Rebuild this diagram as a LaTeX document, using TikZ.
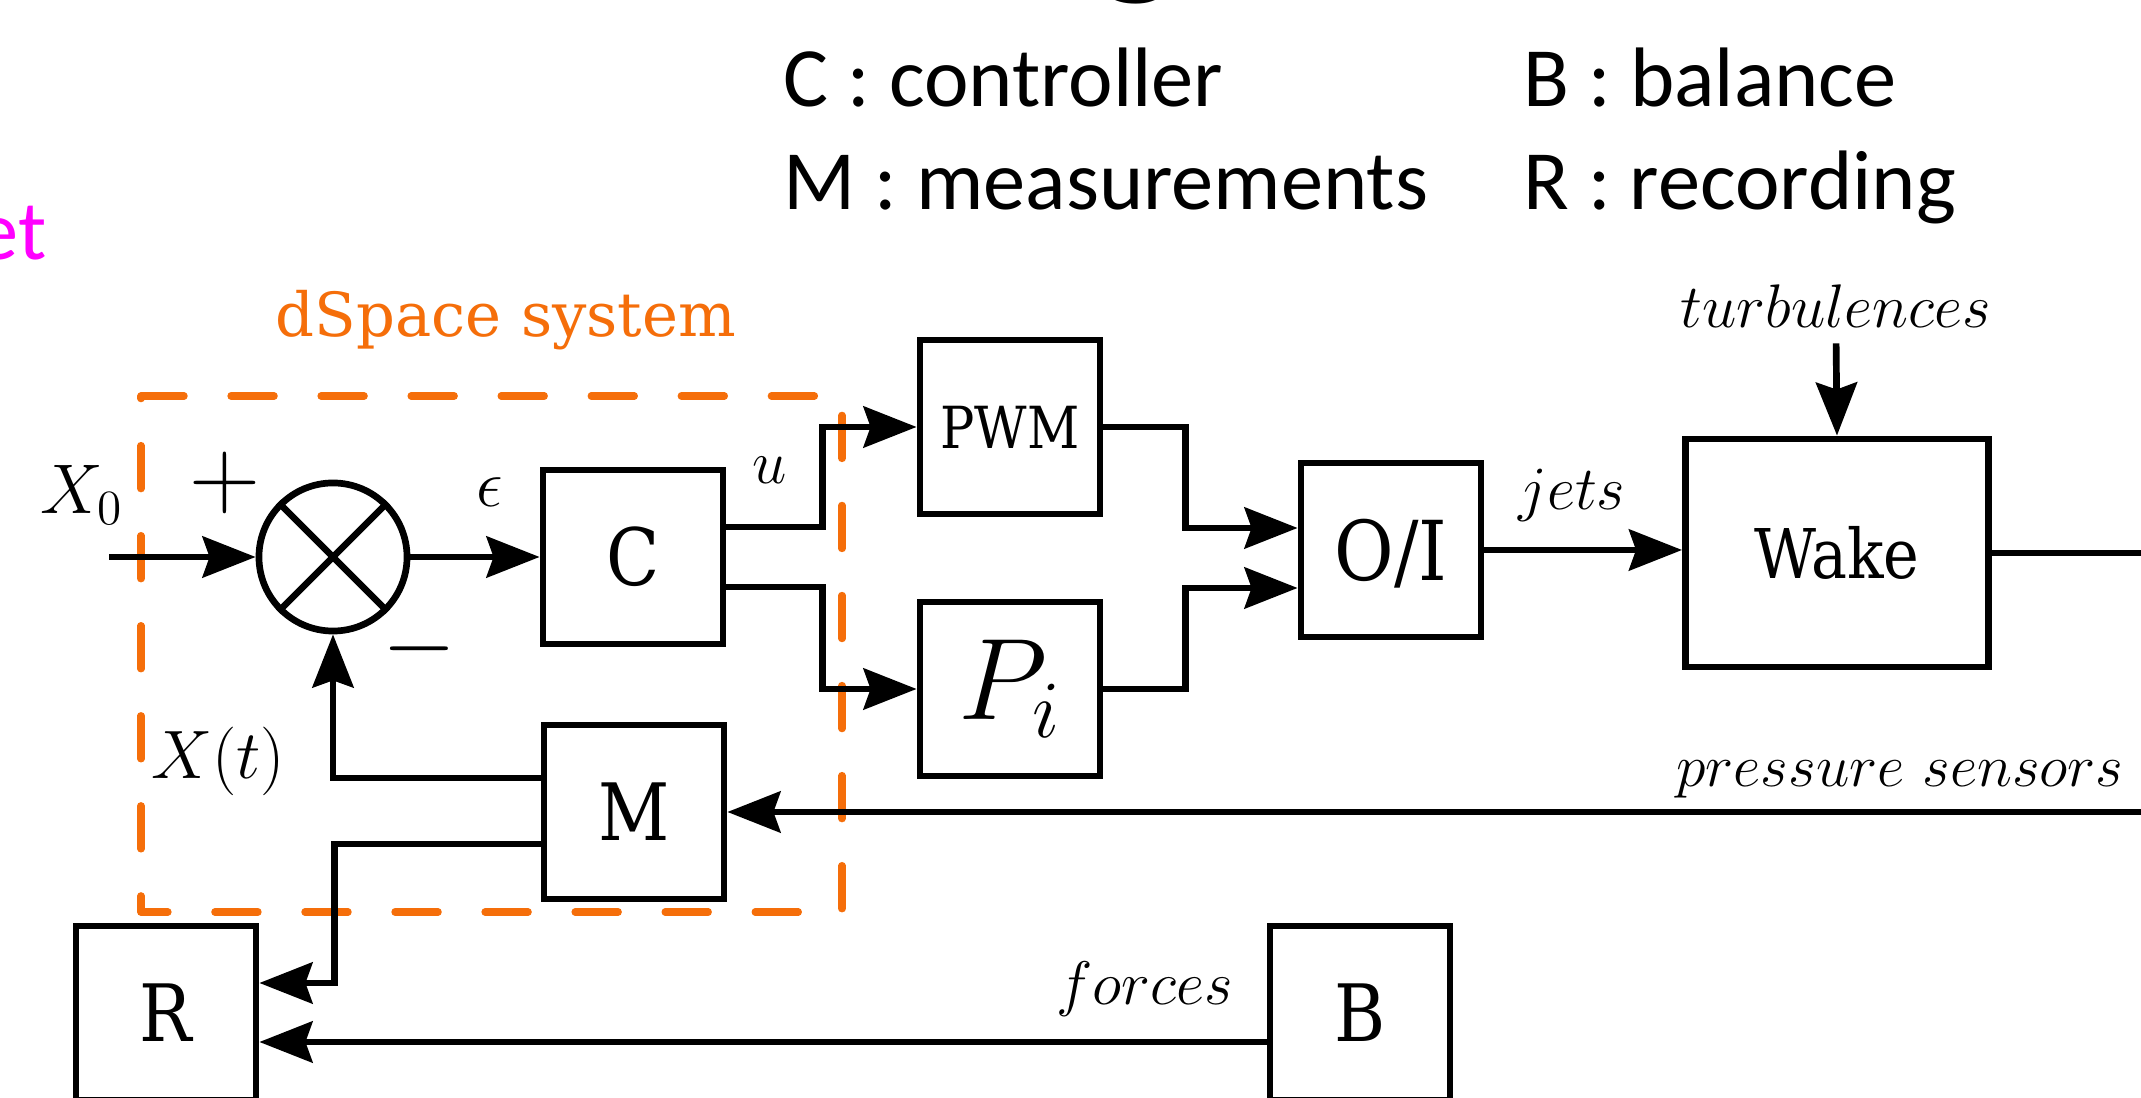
\RequirePackage{fix-cm}
\documentclass[tikz,border=0pt]{standalone}
\usepackage{fontspec}
\usetikzlibrary{arrows.meta,calc}
\newfontfamily\legendfont{Carlito}
\newfontfamily\boxfont{DejaVu Serif}[FakeStretch=0.88]
\newfontfamily\dspacefont{DejaVu Serif}
\definecolor{dorange}{RGB}{245,110,10}
\definecolor{mag}{RGB}{255,0,255}
\newcommand{\myfs}[1]{\fontsize{#1}{#1}\selectfont}
\begin{document}
\begin{tikzpicture}[x=0.01cm,y=-0.01cm,line width=1.9pt,
  >={Stealth[length=5.3mm,width=4.1mm,inset=0.7mm]},
  blk/.style={draw,rectangle,inner sep=0pt,minimum width=1.8cm,minimum height=1.74cm,font=\boxfont\myfs{22.5}},
  lbl/.style={inner sep=0pt,font=\myfs{17.5}},
  leg/.style={inner sep=0pt,anchor=base west,font=\legendfont\myfs{24}}]
\useasboundingbox (0,0) rectangle (2141,1098);
\clip (0,0) rectangle (2141,1098);
\fill[white] (0,0) rectangle (2141,1098);

% legend and slide fragments
\node[leg] (lc) at (780,107) {C : controller};
\node[leg] (lm) at (780,210) {M : measurements};
\node[leg] (lb) at (1520,107) {B : balance};
\node[leg] (lr) at (1520,210) {R : recording};
\node[inner sep=0pt,anchor=base,font=\legendfont\bfseries\myfs{48}] (tg) at (1138,-24) {g};
\node[inner sep=0pt,anchor=base east,font=\legendfont\myfs{24},text=mag] (et) at (50,260) {et};

% dSpace box
\node[inner sep=0pt,anchor=base,font=\dspacefont\myfs{17.3},text=dorange] (ds) at (506,337) {dSpace system};
\draw[dorange,line width=2.1pt,dash pattern=on 4.3mm off 4.7mm,line cap=round,line join=round]
  (141,396) -- (842,396) -- (842,912) -- (141,912) -- cycle;

% summing junction
\node[draw,circle,minimum size=1.48cm,inner sep=0pt] (sum) at (333,557) {};
\draw (sum.north east) -- (sum.south west);
\draw (sum.north west) -- (sum.south east);

% blocks
\node[blk] (C) at (633,557) {C};
\node[blk,font=\boxfont\myfs{16.5}] (PWM) at (1010,427) {PWM};
\node[blk,font=\myfs{33}] (Pi) at (1010,689) {$P_i$};
\node[blk,text depth=0pt,font=\boxfont\myfs{23.5}] (OI) at (1391,550) {O/I};
\node[blk,minimum width=3.03cm,minimum height=2.28cm,font=\boxfont\myfs{19.5}] (W) at (1837,553) {Wake};
\node[blk] (M) at (634,812) {M};
\node[blk] (R) at (166,1013) {R};
\node[blk] (B) at (1360,1013) {B};

% labels
\node[inner sep=0pt,font=\myfs{20}] (x0) at (82,495) {$X_0$};
\node[inner sep=0pt,font=\myfs{28}] (plus) at (225,483) {$+$};
\node[inner sep=0pt,font=\myfs{27}] (minus) at (419,649) {$-$};
\node[inner sep=0pt,font=\myfs{19}] (eps) at (490,492) {$\epsilon$};
\node[lbl] (u) at (770,470) {$u$};
\node[inner sep=0pt,font=\myfs{19.5}] (xt) at (218,761) {$X(t)$};
\node[lbl,anchor=base] (jets) at (1572,510) {$jets$};
\node[lbl,anchor=base] (turb) at (1836,328) {$turbulences$};
\node[lbl,anchor=base east,font=\myfs{17}] (ps) at (2127,787) {$pressure\ sensors$};
\node[lbl,anchor=base east] (forces) at (1236,1005) {$forces$};

% connectors
\coordinate (xin) at (109,557);
\coordinate (wout) at (2200,553);
\coordinate (pin) at (2200,812);
\draw[->] (xin) -- (sum.west);
\draw[->] (sum.east) -- (C.west);
\draw[->] ($(C.east)+(0,-30)$) -- ++(96,0) |- (PWM.west);
\draw[->] ($(C.east)+(0,30)$) -- ++(96,0) |- (Pi.west);
\draw[->] (PWM.east) -- ++(82,0) |- ($(OI.west)+(0,-22)$);
\draw[->] (Pi.east) -- ++(82,0) |- ($(OI.west)+(0,38)$);
\draw[->] (OI.east) -- (OI.east -| W.west);
\draw[->,shorten <=1.2mm] (turb.south) -- (W.north);
\draw (W.east) -- (wout);
\draw[->] (pin) -- (M.east);
\draw[->] ($(M.west)+(0,-34)$) -| (sum.south);
\draw[->] ($(M.west)+(0,32)$) -| ($(R.east)+(75,-30)$) -- ($(R.east)+(0,-30)$);
\draw[->] ($(B.west)+(0,29)$) -- ($(R.east)+(0,29)$);
\end{tikzpicture}
\end{document}
